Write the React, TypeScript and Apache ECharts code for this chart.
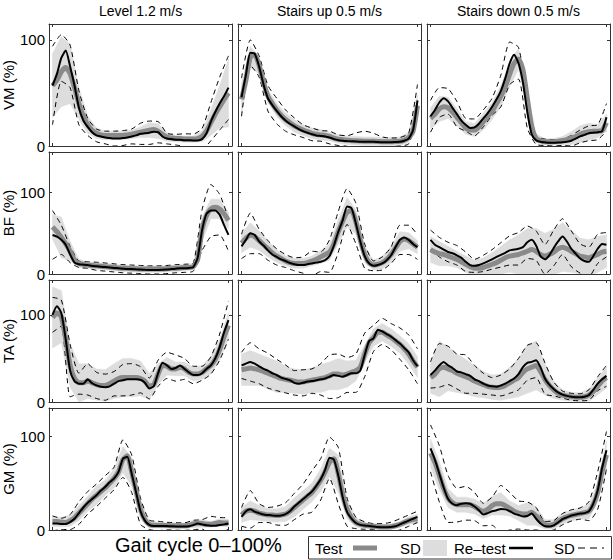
import React, { useEffect, useRef } from "react";
import * as echarts from "echarts";

// ---------- labels ----------
const muscles = ["VM", "BF", "TA", "GM"];
const conditions = ["Level 1.2 m/s", "Stairs up 0.5 m/s", "Stairs down 0.5 m/s"];
const yMaxByMuscle = [115, 150, 140, 130];
const yTicks = [0, 100];
const xTicks = [0, 100];
const xAxisTitle = "Gait cycle 0–100%";
const legendLabels = ["Test", "SD", "Re–test", "SD"];

// gait cycle (%) sample points
const meanPct = [0, 2.5, 5, 7.5, 10, 12.5, 15, 17.5, 20, 22.5, 25, 27.5, 30, 32.5, 35, 37.5, 40, 42.5, 45, 47.5, 50, 52.5, 55, 57.5, 60, 62.5, 65, 67.5, 70, 72.5, 75, 77.5, 80, 82.5, 85, 87.5, 90, 92.5, 95, 97.5, 100];
const sdPct = [0, 5, 10, 15, 20, 25, 30, 35, 40, 45, 50, 55, 60, 65, 70, 75, 80, 85, 90, 95, 100];

// ---------- VM ----------
const vmLevelTest = [57, 62, 70, 74, 68, 55, 40, 28, 20, 15, 12, 10.5, 10, 10, 10, 10, 10, 10.5, 11, 12, 13, 14, 15, 15.5, 14, 11, 8.5, 7.5, 7, 7, 6.5, 6.5, 6.5, 7, 9, 14, 22, 30, 37, 44, 50];
const vmLevelTestSD = [30, 33, 28, 15, 8, 5, 4, 4, 4, 4, 5, 7, 7, 4, 3, 3, 3, 5, 12, 20, 32];
const vmLevelRetest = [57, 68, 83, 90, 75, 57, 36, 24, 18, 13, 10, 9, 8, 7.5, 7, 7, 7.5, 8, 9, 10, 11.5, 12, 12.5, 13.5, 13, 9, 7, 6.5, 6, 5.8, 5.5, 5.4, 5.3, 5.3, 6.5, 12, 23, 32, 40, 47, 55];
const vmLevelRetestSD = [37, 22, 20, 16, 8, 6, 6, 7, 7, 7, 10, 11, 10, 5, 5, 6, 6, 10, 18, 25, 30];

const vmUpTest = [44, 62, 84, 86, 76, 60, 47, 40, 34, 29, 25, 22, 19, 17, 15, 13.5, 12, 11, 10.5, 10, 9, 7.5, 6.5, 6, 5.5, 5, 5, 4.8, 4.5, 4.5, 4.5, 4.3, 4, 4, 4, 4.2, 4.5, 5.5, 8, 14, 38];
const vmUpTestSD = [15, 10, 8, 6, 6, 6, 6, 5, 5, 5, 4, 4, 4, 4, 4, 4, 4, 4, 4, 5, 10];
const vmUpRetest = [46, 67, 88, 87, 75, 58, 45, 38.5, 33, 28, 24, 21, 18.5, 16, 14, 12.5, 11, 10, 9.5, 9, 8, 6.5, 5.5, 5, 4.7, 4.5, 4.3, 4, 4, 4, 4, 3.7, 3.5, 3.5, 3.5, 3.8, 4, 5, 7, 15, 43];
const vmUpRetestSD = [18, 12, 10, 12, 12, 10, 8, 6, 6, 5, 6, 5, 5, 8, 10, 8, 5, 4, 4, 5, 15];

const vmDownTest = [26, 30, 35, 37, 36, 32, 27, 22, 17, 15, 15, 18, 23, 28, 33, 40, 47, 56, 68, 78, 82, 72, 45, 18, 7, 5, 4, 4, 4, 4.5, 5, 6, 7.5, 9, 11, 12.5, 13.5, 14, 14, 14.5, 22];
const vmDownTestSD = [10, 12, 10, 8, 6, 6, 8, 8, 10, 12, 10, 8, 4, 3, 3, 4, 6, 8, 8, 6, 8];
const vmDownRetest = [28, 34, 41, 45, 42, 36, 30, 24, 20, 17, 17.5, 21, 26, 31, 37, 44, 52, 64, 78, 86, 78, 60, 32, 11, 5.5, 4, 3.5, 3, 3, 3.2, 3.5, 4, 5, 7, 9, 10.5, 12, 12.5, 13, 14, 27];
const vmDownRetestSD = [15, 14, 12, 12, 6, 8, 8, 8, 15, 20, 15, 15, 4, 3, 3, 3, 5, 6, 7, 7, 13];

// ---------- BF ----------
const bfLevelTest = [58, 52, 45, 37, 28, 17, 13, 12, 11, 10.5, 10, 9.5, 9, 8.5, 8, 7.5, 7, 7, 6.5, 6.5, 6, 6, 6, 6, 6, 6, 6.5, 7, 7, 7.5, 8, 8, 9, 18, 55, 72, 80, 82, 80, 74, 66];
const bfLevelTestSD = [15, 25, 12, 5, 4, 4, 4, 4, 4, 4, 4, 4, 4, 4, 4, 4, 4, 15, 12, 12, 10];
const bfLevelRetest = [48, 46, 42, 36, 24, 14, 12, 11.5, 11, 10, 9.5, 9, 8.5, 8, 7.5, 7, 6.5, 6, 6, 5.7, 5.5, 5.2, 5, 5, 5, 5.2, 5.5, 6, 6.5, 7, 7, 7.5, 8.5, 20, 54, 74, 78, 78, 73, 60, 48];
const bfLevelRetestSD = [30, 18, 10, 4, 4, 5, 5, 5, 5, 5, 5, 5, 5, 5, 5, 5, 5, 25, 32, 25, 20];

const bfUpTest = [38, 44, 48, 46, 41, 36, 31, 26, 22, 19, 16, 14, 13, 13, 13, 14, 16, 18, 21, 24, 27, 37, 52, 65, 76, 78, 64, 42, 24, 14, 11, 12, 14, 18, 24, 32, 40, 43, 41, 37, 33];
const bfUpTestSD = [12, 15, 12, 10, 8, 6, 6, 6, 6, 8, 10, 15, 18, 15, 10, 6, 8, 10, 12, 10, 8];
const bfUpRetest = [34, 42, 50, 48, 40, 35, 29, 24, 21, 18, 16, 13.5, 12, 11, 11, 12, 13, 14, 15, 17, 22, 35, 52, 66, 83, 81, 62, 40, 22, 13, 10, 11, 13, 17, 23, 33, 42, 45, 42, 37, 33];
const bfUpRetestSD = [15, 25, 15, 12, 10, 8, 8, 10, 15, 12, 20, 25, 22, 25, 15, 6, 8, 10, 18, 18, 15];

const bfDownTest = [30, 27, 25, 24, 22, 20, 18, 15, 12, 9, 7, 7, 8, 10, 12, 14, 17, 20, 22, 23, 24, 26, 28, 30, 28, 24, 22, 24, 27, 31, 33, 31, 28, 25, 22, 21, 20, 22, 24, 27, 28];
const bfDownTestSD = [16, 15, 12, 10, 10, 10, 12, 14, 17, 20, 24, 28, 28, 28, 28, 30, 26, 22, 22, 22, 20];
const bfDownRetest = [42, 36, 33, 30, 27, 25.5, 23, 20, 15, 11, 10, 11, 13, 15.5, 18, 21, 23.5, 26, 29, 30, 31, 33, 39, 42, 35, 22, 18, 23, 32, 40, 46, 40, 31, 25, 19, 16, 15, 22, 31, 37, 36];
const bfDownRetestSD = [12, 12, 12, 12, 12, 8, 10, 12, 15, 18, 20, 20, 18, 18, 22, 22, 22, 18, 18, 18, 15];

// ---------- TA ----------
const taLevelTest = [97, 102, 98, 72, 42, 27, 22, 22, 24, 22, 20, 19, 19, 21, 24, 27, 28, 28, 28, 28, 27, 24, 18, 20, 32, 42, 41, 38, 38, 40, 38, 34, 32, 32, 34, 38, 42, 49, 60, 75, 88];
const taLevelTestSD = [35, 30, 25, 22, 20, 18, 18, 20, 22, 22, 20, 15, 12, 10, 8, 8, 8, 8, 10, 12, 15];
const taLevelRetest = [100, 110, 102, 72, 36, 24, 21, 21, 26, 21.5, 19, 17.5, 17, 18, 21, 24, 25, 26, 26, 26, 25.5, 22, 15.5, 18, 33, 45, 42, 38, 39, 42, 38, 34, 31, 31, 33, 38, 42, 50, 63, 80, 94];
const taLevelRetestSD = [20, 15, 30, 12, 18, 15, 15, 14, 18, 18, 15, 12, 15, 15, 15, 12, 10, 8, 10, 15, 22];

const taUpTest = [37, 38, 39, 38, 37, 35, 33, 31, 29, 27, 26, 25, 24, 23, 23, 24, 25, 26, 27, 28, 30, 32, 32, 31, 32, 34, 36, 40, 55, 68, 74, 80, 80, 77, 74, 70, 66, 61, 55, 47, 40];
const taUpTestSD = [18, 20, 18, 18, 18, 15, 14, 14, 14, 16, 16, 18, 15, 12, 10, 10, 10, 10, 10, 12, 12];
const taUpRetest = [42, 44, 46, 44, 41, 38, 36, 33, 31, 28, 26.5, 25, 22, 21, 22, 23.5, 24, 25, 26, 27, 29, 31, 30, 29, 31, 33, 33, 36, 54, 70, 73, 83, 81, 78, 75, 71, 67, 62, 57, 48, 41];
const taUpRetestSD = [15, 22, 20, 20, 18, 16, 14, 15, 14, 18, 25, 25, 20, 22, 25, 15, 15, 15, 18, 20, 20];

const taDownTest = [28, 32, 38, 40, 38, 36, 33, 31, 29, 27, 24, 22, 20, 18, 17, 16.5, 17, 19, 22, 25, 28, 34, 38, 40, 42, 35, 26, 19, 14, 10, 8, 7, 6, 5.5, 5.5, 6, 8, 12, 18, 24, 28];
const taDownTestSD = [18, 32, 25, 22, 20, 18, 15, 14, 15, 18, 22, 28, 28, 18, 10, 6, 5, 5, 7, 10, 12];
const taDownRetest = [31, 36, 42, 46, 42, 39, 35, 34, 32, 30, 26, 24, 21, 19, 18, 17.5, 19, 21, 24, 27, 32, 40, 45, 46, 48, 40, 27, 20, 15, 11, 8.5, 7, 6, 5.5, 5.4, 6, 8, 14, 21, 26, 30];
const taDownRetestSD = [15, 25, 22, 20, 22, 16, 12, 10, 12, 14, 18, 20, 20, 18, 8, 4, 4, 4, 6, 8, 12];

// ---------- GM ----------
const gmLevelTest = [9, 9, 8.5, 8, 10, 13, 18, 23, 28, 33, 37, 41, 45, 50, 55, 62, 75, 79, 62, 42, 22, 11, 6, 5, 5, 5, 4.8, 4.6, 4.5, 4.5, 4.5, 5, 6.5, 7.5, 7, 6, 6, 7, 8, 7.5, 7.5];
const gmLevelTestSD = [5, 5, 6, 8, 8, 10, 8, 10, 14, 15, 10, 4, 3, 3, 3, 3, 4, 4, 3, 4, 4];
const gmLevelRetest = [7, 7, 6.5, 6.5, 8.5, 12, 18, 24, 29, 33, 37, 42, 46, 51, 55, 62, 76, 78, 60, 40, 20, 10, 5.5, 4.3, 4.3, 4.3, 4.2, 4, 3.8, 3.7, 3.6, 4, 5.3, 6.8, 6, 5, 4.5, 4.5, 5.3, 6, 7];
const gmLevelRetestSD = [8, 6, 8, 12, 12, 12, 12, 12, 20, 20, 14, 5, 5, 4, 4, 4, 5, 5, 10, 8, 6];

const gmUpTest = [16, 20, 21, 20, 18, 17, 16, 16, 15.5, 16, 17, 20, 24, 28, 32, 36, 40, 46, 53, 62, 72, 76, 60, 38, 22, 13, 8, 6, 5, 4.5, 4, 3.5, 3.2, 3.2, 3.5, 4.5, 6, 8, 10, 11, 12];
const gmUpTestSD = [8, 10, 8, 7, 7, 8, 10, 10, 10, 12, 15, 20, 10, 5, 3, 3, 3, 3, 3, 4, 5];
const gmUpRetest = [14, 20, 22, 19.5, 18, 16.5, 16, 15.5, 15.3, 15.5, 17, 20, 25, 29, 33, 37, 41, 47, 54, 64, 77, 75, 58, 35, 19, 12, 7.5, 5.5, 4.8, 4.3, 3.8, 3.2, 2.8, 3, 3.3, 4, 6, 8, 10, 12, 14];
const gmUpRetestSD = [10, 20, 10, 8, 10, 12, 14, 16, 22, 22, 22, 30, 15, 6, 4, 3, 4, 5, 6, 6, 6];

const gmDownTest = [82, 72, 58, 44, 34, 29, 27, 27, 27, 27, 25, 22, 20, 22, 26, 28, 28, 26, 23, 20, 18, 17, 17, 19, 15, 10, 6, 5, 6, 9, 12, 14, 15.5, 16.5, 17.5, 18.5, 20, 27, 40, 62, 80];
const gmDownTestSD = [15, 15, 10, 8, 8, 8, 8, 10, 12, 8, 8, 12, 10, 5, 5, 6, 6, 6, 8, 10, 15];
const gmDownRetest = [87, 75, 60, 45, 33, 28, 26.5, 28, 28.5, 28, 25, 21, 16.5, 18, 20, 21, 22.5, 22, 20, 17.5, 16, 14.5, 15, 17.5, 12, 7, 4, 3.8, 5, 8, 11.5, 13.5, 15.5, 16.5, 17.5, 18, 20, 28, 42, 66, 85];
const gmDownRetestSD = [25, 30, 25, 18, 18, 15, 12, 15, 25, 20, 15, 15, 12, 5, 5, 6, 6, 6, 10, 20, 20];

type Panel = { test: number[]; testSD: number[]; retest: number[]; retestSD: number[] };
const panels: Panel[][] = [
  [
    { test: vmLevelTest, testSD: vmLevelTestSD, retest: vmLevelRetest, retestSD: vmLevelRetestSD },
    { test: vmUpTest, testSD: vmUpTestSD, retest: vmUpRetest, retestSD: vmUpRetestSD },
    { test: vmDownTest, testSD: vmDownTestSD, retest: vmDownRetest, retestSD: vmDownRetestSD },
  ],
  [
    { test: bfLevelTest, testSD: bfLevelTestSD, retest: bfLevelRetest, retestSD: bfLevelRetestSD },
    { test: bfUpTest, testSD: bfUpTestSD, retest: bfUpRetest, retestSD: bfUpRetestSD },
    { test: bfDownTest, testSD: bfDownTestSD, retest: bfDownRetest, retestSD: bfDownRetestSD },
  ],
  [
    { test: taLevelTest, testSD: taLevelTestSD, retest: taLevelRetest, retestSD: taLevelRetestSD },
    { test: taUpTest, testSD: taUpTestSD, retest: taUpRetest, retestSD: taUpRetestSD },
    { test: taDownTest, testSD: taDownTestSD, retest: taDownRetest, retestSD: taDownRetestSD },
  ],
  [
    { test: gmLevelTest, testSD: gmLevelTestSD, retest: gmLevelRetest, retestSD: gmLevelRetestSD },
    { test: gmUpTest, testSD: gmUpTestSD, retest: gmUpRetest, retestSD: gmUpRetestSD },
    { test: gmDownTest, testSD: gmDownTestSD, retest: gmDownRetest, retestSD: gmDownRetestSD },
  ],
];

// ---------- style / layout ----------
const FONT = '"Liberation Sans", Arial, Helvetica, sans-serif';
const FRAME = "#333333";
const BAND = "#dddddd";
const TEST_LINE = "#8a8a8a";
const gridLefts = [49, 238, 427];
const gridTops = [24, 152, 280, 408];
const GW = 183;
const GH = 122;

function buildOption() {
  const grid: any[] = [];
  const xAxis: any[] = [];
  const yAxis: any[] = [];
  const series: any[] = [];

  muscles.forEach((muscle, r) => {
    conditions.forEach((_cond, c) => {
      const g = r * 3 + c;
      const p = panels[r][c];
      grid.push({ left: gridLefts[c], top: gridTops[r], width: GW, height: GH, show: false });
      const xBase = {
        gridIndex: g,
        type: "value",
        min: -2,
        max: 102,
        axisLine: { show: true, onZero: false, lineStyle: { color: FRAME, width: 1 } },
        axisTick: { show: true, inside: true, length: 3, customValues: xTicks, lineStyle: { color: FRAME } },
        axisLabel: { show: false },
        splitLine: { show: false },
        z: 10,
      };
      xAxis.push({ ...xBase, position: "bottom" });
      xAxis.push({ ...xBase, position: "top" });
      const yBase = {
        gridIndex: g,
        type: "value",
        min: 0,
        max: yMaxByMuscle[r],
        interval: 100,
        axisLine: { show: true, onZero: false, lineStyle: { color: FRAME, width: 1 } },
        axisTick: { show: true, inside: true, length: 3, customValues: yTicks, lineStyle: { color: FRAME } },
        splitLine: { show: false },
        z: 10,
      };
      yAxis.push({
        ...yBase,
        position: "left",
        axisLabel: {
          show: c === 0,
          customValues: yTicks,
          formatter: (v: number) => (yTicks.includes(v) ? String(v) : ""),
          fontSize: 15,
          fontFamily: FONT,
          color: "#000",
          margin: 4,
        },
        name: c === 0 ? `${muscle} (%)` : "",
        nameLocation: "middle",
        nameGap: 33,
        nameRotate: 90,
        nameTextStyle: { fontSize: 15, fontFamily: FONT, color: "#000" },
      });
      yAxis.push({ ...yBase, position: "right", axisLabel: { show: false } });

      const xi = 2 * g;
      const yi = 2 * g;
      const common = { xAxisIndex: xi, yAxisIndex: yi, silent: true, animation: false };

      // test SD band: [x, low, high]
      const bandData = sdPct.map((x, i) => [x, p.test[2 * i] - p.testSD[i], p.test[2 * i] + p.testSD[i]]);
      series.push({
        ...common,
        type: "custom",
        clip: true,
        z: 1,
        encode: { x: 0, y: [1, 2] },
        data: bandData,
        renderItem: (params: any, api: any) => {
          if (params.dataIndex !== 0) return null;
          const upper = bandData.map((d) => api.coord([d[0], d[2]]));
          const lower = bandData.map((d) => api.coord([d[0], d[1]])).reverse();
          return {
            type: "polygon",
            shape: { points: upper.concat(lower) },
            style: { fill: BAND, stroke: BAND, lineWidth: 0.5 },
          };
        },
      });

      const up = sdPct.map((x, i) => [x, p.retest[2 * i] + p.retestSD[i]]);
      const dn = sdPct.map((x, i) => [x, p.retest[2 * i] - p.retestSD[i]]);
      const dashStyle = { color: "#000", width: 1, type: [5, 4] };
      series.push({ ...common, type: "line", symbol: "none", data: up, lineStyle: dashStyle, smooth: 0.2, z: 2 });
      series.push({ ...common, type: "line", symbol: "none", data: dn, lineStyle: dashStyle, smooth: 0.2, z: 2 });

      series.push({ ...common, type: "line", symbol: "none", data: meanPct.map((x, i) => [x, p.test[i]]), lineStyle: { color: TEST_LINE, width: 5 }, smooth: 0.2, z: 3 });
      series.push({ ...common, type: "line", symbol: "none", data: meanPct.map((x, i) => [x, p.retest[i]]), lineStyle: { color: "#000", width: 2 }, smooth: 0.2, z: 4 });
    });
  });

  const text = (t: string, x: number, y: number, size: number, align = "left") => ({
    type: "text",
    x,
    y,
    silent: true,
    style: { text: t, fill: "#000", font: `${size}px ${FONT}`, textAlign: align, textVerticalAlign: "middle", align, verticalAlign: "middle" },
  });

  const graphic: any[] = [];
  conditions.forEach((cond, c) => graphic.push(text(cond, gridLefts[c] + GW / 2, 11, 14, "center")));
  graphic.push(text(xAxisTitle, 115, 545, 20));
  const ly = 548;
  graphic.push({ type: "rect", shape: { x: 308.5, y: 536.5, width: 303, height: 22.5 }, style: { fill: "#fff", stroke: FRAME, lineWidth: 1 }, silent: true });
  graphic.push(text(legendLabels[0], 315, ly, 15));
  graphic.push({ type: "line", shape: { x1: 353, y1: ly, x2: 377, y2: ly }, style: { stroke: TEST_LINE, lineWidth: 5 }, silent: true });
  graphic.push(text(legendLabels[1], 400, ly, 15));
  graphic.push({ type: "rect", shape: { x: 423, y: 540, width: 24, height: 16 }, style: { fill: BAND }, silent: true });
  graphic.push(text(legendLabels[2], 454, ly, 15));
  graphic.push({ type: "line", shape: { x1: 509, y1: ly, x2: 533, y2: ly }, style: { stroke: "#000", lineWidth: 2.5 }, silent: true });
  graphic.push(text(legendLabels[3], 554, ly, 15));
  graphic.push({ type: "line", shape: { x1: 578, y1: ly, x2: 604, y2: ly }, style: { stroke: "#000", lineWidth: 1, lineDash: [7, 5] }, silent: true });

  return { animation: false, backgroundColor: "#fff", grid, xAxis, yAxis, series, graphic };
}

export default function App() {
  const ref = useRef<HTMLDivElement>(null);
  useEffect(() => {
    if (!ref.current) return;
    const chart = echarts.init(ref.current, undefined, { renderer: "svg" });
    chart.setOption(buildOption() as any);
    return () => chart.dispose();
  }, []);
  return <div ref={ref} style={{ position: "fixed", left: 0, top: 0, width: 613, height: 560, background: "#fff" }} />;
}
